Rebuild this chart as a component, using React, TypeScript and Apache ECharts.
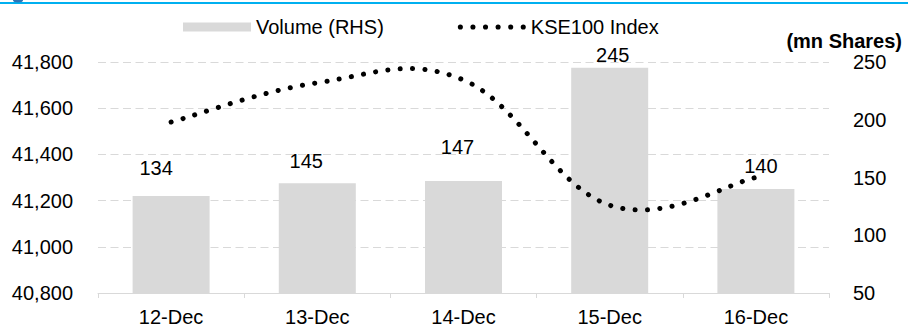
import React, { useEffect, useRef } from 'react';
import * as echarts from 'echarts';

const categories = ['12-Dec', '13-Dec', '14-Dec', '15-Dec', '16-Dec'];
const volumeValues = [134, 145, 147, 245, 140];
const kseValues = [41540, 41710, 41722, 41180, 41300];
const leftRange = [40800, 41800];
const leftInterval = 200;
const rightRange = [50, 250];
const rightInterval = 50;
const seriesNames = ['Volume (RHS)', 'KSE100 Index'];
const rightAxisTitle = '(mn Shares)';

// label nudges (layout only)
const labelNudges: [number, number][] = [[-15, -18], [-11, -12], [-6, -24], [3, -3], [5, -13]];

const FONT = 'Liberation Sans, Arial, sans-serif';
const TENSION = 0.19;

function dotsPath(): string {
  const r = 2.5;
  const step = 12.3;
  let d = '';
  for (let k = 0; k < 6; k++) {
    const x = k * step;
    d += `M${x},${r}a${r},${r} 0 1,0 ${2 * r},0a${r},${r} 0 1,0 ${-2 * r},0Z`;
  }
  return 'path://' + d;
}

// Spreadsheet-style smoothed curve through pixel points (Catmull-Rom -> cubic Bezier)
function smoothPath(pts: number[][]): string {
  const n = pts.length;
  if (!n) return '';
  let d = `M${pts[0][0]},${pts[0][1]}`;
  for (let i = 0; i < n - 1; i++) {
    const p0 = pts[Math.max(0, i - 1)];
    const p1 = pts[i];
    const p2 = pts[i + 1];
    const p3 = pts[Math.min(n - 1, i + 2)];
    const c1x = p1[0] + (p2[0] - p0[0]) * TENSION;
    const c1y = p1[1] + (p2[1] - p0[1]) * TENSION;
    const c2x = p2[0] - (p3[0] - p1[0]) * TENSION;
    const c2y = p2[1] - (p3[1] - p1[1]) * TENSION;
    d += `C${c1x},${c1y} ${c2x},${c2y} ${p2[0]},${p2[1]}`;
  }
  return d;
}

export default function App() {
  const ref = useRef<HTMLDivElement>(null);
  useEffect(() => {
    if (!ref.current) return;
    const chart = echarts.init(ref.current, null, { renderer: 'svg' });
    const option: any = {
      animation: false,
      backgroundColor: '#fff',
      textStyle: { fontFamily: FONT },
      graphic: [
        { type: 'rect', left: 0, top: 2, shape: { width: 908, height: 2 }, style: { fill: '#00B0F0' } },
        { type: 'ellipse', shape: { cx: 18, cy: 0.5, rx: 5, ry: 2 }, style: { fill: '#2E75B6' } },
        {
          type: 'text', right: 6, top: 31,
          style: { text: rightAxisTitle, font: `bold 20px ${FONT}`, fill: '#000' },
        },
      ],
      legend: {
        left: 178,
        top: 12,
        itemWidth: 68,
        itemHeight: 9,
        itemGap: 74,
        textStyle: { fontSize: 20, color: '#000', fontFamily: FONT },
        data: [
          { name: seriesNames[0], icon: 'rect', itemStyle: { color: '#D9D9D9', borderWidth: 0 } },
          { name: seriesNames[1], icon: dotsPath(), itemStyle: { color: '#000', borderWidth: 0 } },
        ],
      },
      grid: { left: 98, right: 79, top: 62, bottom: 35 },
      xAxis: {
        type: 'category',
        data: categories,
        axisLine: { lineStyle: { color: '#D9D9D9', width: 1 } },
        axisTick: { show: true, length: 5, lineStyle: { color: '#D9D9D9' } },
        axisLabel: { fontSize: 20, color: '#000', margin: 14, interval: 0, fontFamily: FONT },
      },
      yAxis: [
        {
          type: 'value',
          position: 'left',
          min: leftRange[0],
          max: leftRange[1],
          interval: leftInterval,
          axisLine: { show: false },
          axisTick: { show: false },
          axisLabel: {
            fontSize: 20, color: '#000', margin: 25, fontFamily: FONT,
            formatter: (v: number) => v.toLocaleString('en-US'),
          },
          splitLine: { lineStyle: { type: [8, 4.5], color: '#D9D9D9', width: 1 } },
        },
        {
          type: 'value',
          position: 'right',
          min: rightRange[0],
          max: rightRange[1],
          interval: rightInterval,
          axisLine: { show: false },
          axisTick: { show: false },
          axisLabel: { fontSize: 20, color: '#000', margin: 24, fontFamily: FONT },
          splitLine: { show: false },
        },
      ],
      series: [
        {
          name: seriesNames[0],
          type: 'bar',
          yAxisIndex: 1,
          barWidth: 77,
          itemStyle: { color: '#D9D9D9' },
          label: { show: true, position: 'top', distance: 0, fontSize: 20, color: '#000', fontFamily: FONT },
          data: volumeValues.map((v, i) => ({ value: v, label: { offset: labelNudges[i] } })),
          z: 2,
        },
        {
          name: seriesNames[1],
          type: 'custom',
          yAxisIndex: 0,
          itemStyle: { color: '#000' },
          encode: { x: 0, y: 1 },
          data: kseValues.map((v, i) => [i, v]),
          z: 3,
          renderItem: (params: any, api: any) => {
            if (params.dataIndex !== 0) return { type: 'group', children: [] };
            const pts = kseValues.map((v, i) => api.coord([i, v]));
            return {
              type: 'path',
              shape: { pathData: smoothPath(pts) },
              style: {
                fill: 'none',
                stroke: '#000',
                lineWidth: 5,
                lineDash: [0.1, 12.3],
                lineCap: 'round',
              },
            };
          },
        },
      ],
    };
    chart.setOption(option);
    return () => chart.dispose();
  }, []);
  return (
    <div
      ref={ref}
      style={{ position: 'fixed', left: 0, top: 0, width: 908, height: 328 }}
    />
  );
}
